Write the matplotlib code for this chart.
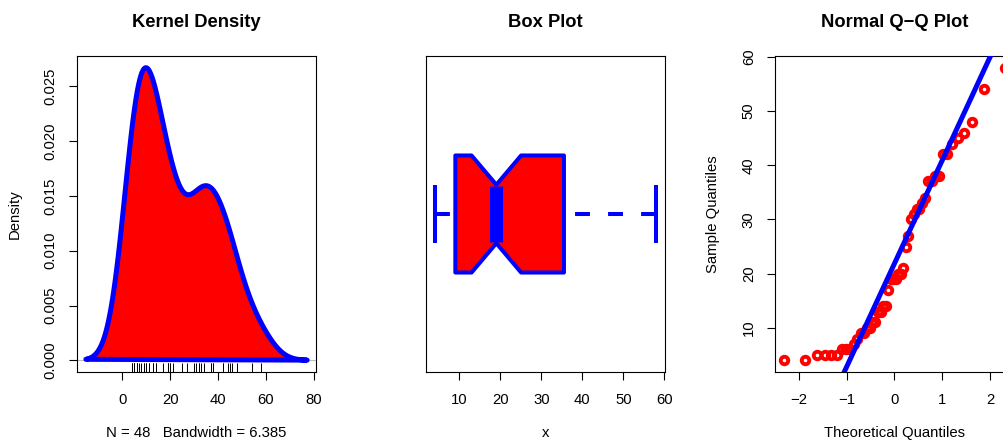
import numpy as np
import matplotlib
matplotlib.use("Agg")
import matplotlib.pyplot as plt
from statistics import NormalDist

x = np.array([4, 4, 5, 5, 5, 5, 6, 6, 6, 7, 8, 9, 9, 10, 10, 11, 11, 13, 13, 14,
              14, 17, 19, 19, 19, 20, 20, 21, 25, 27, 30, 31, 32, 32, 33, 34, 37, 37,
              38, 38, 42, 42, 44, 45, 46, 48, 54, 58], dtype=float)
bw = 6.385

dens_xticks = [0, 20, 40, 60, 80]
dens_yticks = [0.000, 0.005, 0.010, 0.015, 0.020, 0.025]
box_xticks = [10, 20, 30, 40, 50, 60]
qq_xticks = [-2, -1, 0, 1, 2]
qq_yticks = [10, 20, 30, 40, 50, 60]

RED = "#FF0000"
BLUE = "#0000FF"

plt.rcParams['font.family'] = ['Liberation Sans', 'DejaVu Sans']
plt.rcParams['font.size'] = 10.7
plt.rcParams['axes.linewidth'] = 0.8
plt.rcParams['xtick.major.size'] = 5.8
plt.rcParams['ytick.major.size'] = 5.8
plt.rcParams['xtick.major.width'] = 0.8
plt.rcParams['ytick.major.width'] = 0.8
plt.rcParams['xtick.major.pad'] = 9
plt.rcParams['ytick.major.pad'] = 8

W, H = 1004, 442
fig = plt.figure(figsize=(W / 100, H / 100), dpi=100)


def rpad(lo, hi):
    d = (hi - lo) * 0.04
    return lo - d, hi + d


def fivenum(v):
    v = np.sort(v)
    n = len(v)
    n4 = np.floor((n + 3) / 2) / 2
    d = np.array([1, n4, (n + 1) / 2, n + 1 - n4, n]) - 1
    return 0.5 * (v[np.floor(d).astype(int)] + v[np.ceil(d).astype(int)])


def style(ax):
    for s in ax.spines.values():
        s.set_color('black')
    ax.tick_params(direction='out', colors='black', labelsize=10.7)


def add_title(ax, txt):
    ax.text(0.5, 1 + 34 / 316, txt, transform=ax.transAxes, ha='center',
            va='center', fontsize=13.2, fontweight='bold')


def add_xlabel(ax, txt):
    ax.text(0.5, -61 / 316, txt, transform=ax.transAxes, ha='center', va='center')


def add_ylabel(ax, txt, dx):
    ax.text(-dx / 239, 0.5, txt, transform=ax.transAxes, ha='center', va='center',
            rotation=90)


# ---- Kernel density ----
ax1 = fig.add_axes([77 / W, 70 / H, 239 / W, 316 / H])
gx = np.linspace(x.min() - 3 * bw, x.max() + 3 * bw, 512)
gy = np.exp(-0.5 * ((gx[:, None] - x[None, :]) / bw) ** 2).sum(axis=1) / (len(x) * bw * np.sqrt(2 * np.pi))
ax1.axhline(0, color='#bebebe', lw=0.8, zorder=1)
ax1.fill(gx, gy, facecolor=RED, edgecolor=BLUE, lw=3.6, joinstyle='round', zorder=2)
ax1.vlines(x, 0, 0.03, transform=ax1.get_xaxis_transform(), color='black', lw=0.7, zorder=3)
ax1.set_xlim(*rpad(gx.min(), gx.max()))
ax1.set_ylim(*rpad(0, gy.max()))
ax1.set_xticks(dens_xticks)
ax1.set_yticks(dens_yticks)
ax1.set_yticklabels([f"{t:.3f}" for t in dens_yticks], rotation=90, va='center')
style(ax1)
add_title(ax1, "Kernel Density")
add_xlabel(ax1, f"N = {len(x)}   Bandwidth = {bw}")
add_ylabel(ax1, "Density", 62)

# ---- Box plot ----
ax2 = fig.add_axes([426 / W, 70 / H, 239 / W, 316 / H])
lo_w, h1, med, h2, hi_w = fivenum(x)
notch = 1.58 * (h2 - h1) / np.sqrt(len(x))
half, nh = 0.2, 0.1
bx = [h1, med - notch, med, med + notch, h2, h2, med + notch, med, med - notch, h1]
by = [1 + half, 1 + half, 1 + nh, 1 + half, 1 + half, 1 - half, 1 - half, 1 - nh, 1 - half, 1 - half]
ax2.fill(bx, by, facecolor=RED, edgecolor=BLUE, lw=2.9, joinstyle='round', zorder=2)
for end, hinge in [(lo_w, h1), (hi_w, h2)]:
    ax2.plot([end, hinge], [1, 1], color=BLUE, lw=2.9, dashes=(3.7, 4.5),
             dash_capstyle='butt', zorder=1)
    ax2.plot([end, end], [1 - nh, 1 + nh], color=BLUE, lw=2.9, solid_capstyle='butt', zorder=3)
ax2.plot([med, med], [1 - nh + 0.005, 1 + nh - 0.005], color=BLUE, lw=9.4,
         solid_capstyle='butt', zorder=3)
ax2.set_xlim(*rpad(x.min(), x.max()))
ax2.set_ylim(0.46, 1.54)
ax2.set_xticks(box_xticks)
ax2.set_yticks([])
style(ax2)
add_title(ax2, "Box Plot")
add_xlabel(ax2, "x")

# ---- Normal Q-Q ----
ax3 = fig.add_axes([775 / W, 70 / H, 239 / W, 316 / H])
nd = NormalDist()
n = len(x)
theo = np.array([nd.inv_cdf((i - 0.5) / n) for i in range(1, n + 1)])
q1, q3 = np.quantile(x, [0.25, 0.75])
z1, z3 = nd.inv_cdf(0.25), nd.inv_cdf(0.75)
slope = (q3 - q1) / (z3 - z1)
icpt = q1 - slope * z1
ax3.plot(theo, np.sort(x), 'o', ms=5.4, mfc='none', mec=RED, mew=2.8, zorder=2)
ax3.axline((0, icpt), slope=slope, color=BLUE, lw=3.6, zorder=3)
ax3.set_xlim(*rpad(theo.min(), theo.max()))
ax3.set_ylim(*rpad(x.min(), x.max()))
ax3.set_xticks(qq_xticks)
ax3.set_yticks(qq_yticks)
ax3.set_yticklabels([str(t) for t in qq_yticks], rotation=90, va='center')
style(ax3)
add_title(ax3, "Normal Q\u2212Q Plot")
add_xlabel(ax3, "Theoretical Quantiles")
add_ylabel(ax3, "Sample Quantiles", 62)

fig.savefig("out.png", dpi=100)
